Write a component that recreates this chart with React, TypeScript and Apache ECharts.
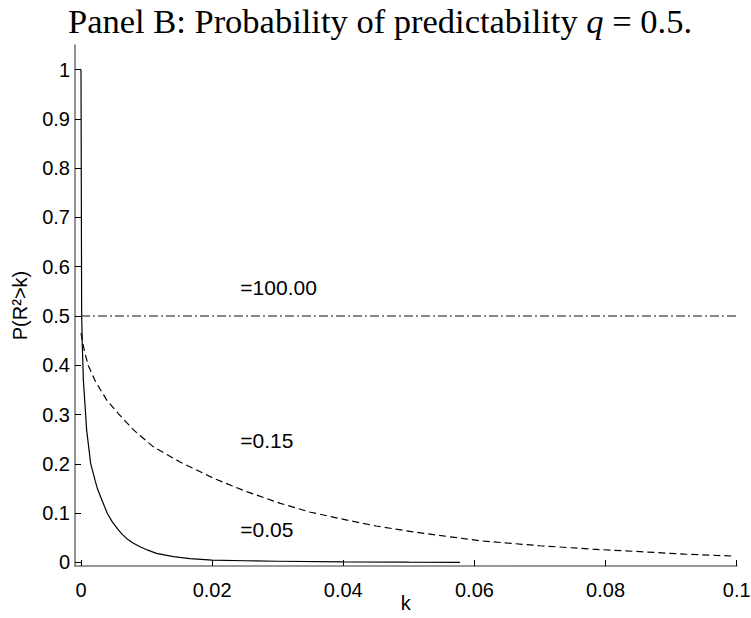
import React, { useEffect, useRef } from 'react';
import * as echarts from 'echarts';

// Solid curve (=0.05)
const kSolid = [0, 0.0001, 0.0002, 0.00036, 0.00086, 0.00147, 0.00214, 0.0025, 0.003, 0.004, 0.0048, 0.0057, 0.0063, 0.0072, 0.008, 0.009, 0.0102, 0.0115, 0.0141, 0.0166, 0.02, 0.025, 0.03, 0.04, 0.05, 0.0578];
const pSolid = [1, 0.5, 0.44, 0.37, 0.269, 0.201, 0.167, 0.15, 0.133, 0.1, 0.082, 0.066, 0.057, 0.046, 0.039, 0.032, 0.025, 0.0186, 0.0118, 0.0077, 0.005, 0.0035, 0.0025, 0.0012, 0.0006, 0.0004];

// Dashed curve (=0.15)
const kDashed = [0, 0.0005, 0.0011, 0.0021, 0.0029, 0.004, 0.0057, 0.008, 0.011, 0.0151, 0.0202, 0.025, 0.0304, 0.035, 0.0406, 0.045, 0.0507, 0.0609, 0.07, 0.078, 0.0853, 0.092, 0.0996];
const pDashed = [0.465, 0.43, 0.4, 0.37, 0.352, 0.328, 0.302, 0.269, 0.235, 0.204, 0.171, 0.145, 0.12, 0.102, 0.086, 0.074, 0.062, 0.044, 0.034, 0.027, 0.022, 0.017, 0.013];

// Dash-dot line (=100.00)
const kFlat = [0, 0.1];
const pFlat = [0.5, 0.5];

// Annotations
const annotK = [0.0243, 0.0243, 0.0243];
const annotP = [0.557, 0.248, 0.067];
const annotText = ['=100.00', '=0.15', '=0.05'];

// Ticks
const xTicks = [0, 0.02, 0.04, 0.06, 0.08, 0.1];
const xTickLabels = ['0', '0.02', '0.04', '0.06', '0.08', '0.1'];
const yTicks = [0, 0.1, 0.2, 0.3, 0.4, 0.5, 0.6, 0.7, 0.8, 0.9, 1];
const yTickLabels = ['0', '0.1', '0.2', '0.3', '0.4', '0.5', '0.6', '0.7', '0.8', '0.9', '1'];

const zip = (a: number[], b: number[]) => a.map((v, i) => [v, b[i]]);

export default function App() {
  const ref = useRef<HTMLDivElement>(null);
  useEffect(() => {
    document.body.style.margin = '0';
    if (!ref.current) return;
    const chart = echarts.init(ref.current, undefined, { renderer: 'svg' });
    const sans = 'Liberation Sans, Arial, sans-serif';
    const lookup = (vals: number[], labels: string[]) => (v: number) => {
      const i = vals.findIndex((t) => Math.abs(t - v) < 1e-9);
      return i >= 0 ? labels[i] : '';
    };
    chart.setOption({
      animation: false,
      backgroundColor: '#fff',
      graphic: [
        {
          type: 'text',
          x: 380,
          y: 3,
          style: {
            text: 'Panel B: Probability of predictability {i|q} = 0.5.',
            font: '34.5px "Liberation Serif", serif',
            fill: '#000',
            align: 'center',
            verticalAlign: 'top',
            rich: {
              i: { fontStyle: 'italic', fontSize: 34.5, fontFamily: 'Liberation Serif', fill: '#000' },
            },
          },
        },
      ],
      grid: { left: 75, right: 14.3, top: 45, bottom: 52, containLabel: false, outerBoundsMode: 'none' },
      xAxis: {
        type: 'value',
        min: -0.000915,
        max: 0.1,
        name: 'k',
        nameLocation: 'middle',
        nameGap: 27,
        nameMoveOverlap: false,
        nameTextStyle: { fontFamily: sans, fontSize: 20, color: '#000' },
        axisLine: { onZero: false, lineStyle: { color: '#777', width: 1.6 } },
        axisTick: { inside: true, length: 6, customValues: xTicks, lineStyle: { color: '#000', width: 1 } },
        axisLabel: {
          customValues: xTicks,
          formatter: lookup(xTicks, xTickLabels),
          fontFamily: sans,
          fontSize: 20,
          color: '#000',
          margin: 14,
        },
        splitLine: { show: false },
      },
      yAxis: {
        type: 'value',
        min: -0.0071,
        max: 1.0497,
        name: 'P(R²>k)',
        nameLocation: 'middle',
        nameRotate: 90,
        nameGap: 45,
        nameMoveOverlap: false,
        nameTextStyle: { fontFamily: sans, fontSize: 20, color: '#000' },
        axisLine: { onZero: false, lineStyle: { color: '#777', width: 1.6 } },
        axisTick: { inside: true, length: 6, customValues: yTicks, lineStyle: { color: '#000', width: 1 } },
        axisLabel: {
          customValues: yTicks,
          formatter: lookup(yTicks, yTickLabels),
          fontFamily: sans,
          fontSize: 20,
          color: '#000',
          margin: 5,
        },
        splitLine: { show: false },
      },
      series: [
        {
          type: 'line',
          data: zip(kFlat, pFlat),
          showSymbol: false,
          lineStyle: { color: '#111', width: 1.1, type: [9, 3, 2, 3] },
        },
        {
          type: 'line',
          data: zip(kDashed, pDashed),
          showSymbol: false,
          smooth: false,
          lineStyle: { color: '#000', width: 1.2, type: [7, 4] },
        },
        {
          type: 'line',
          data: zip(kSolid, pSolid),
          showSymbol: false,
          smooth: false,
          lineStyle: { color: '#000', width: 1.2, type: 'solid' },
        },
        {
          type: 'scatter',
          data: annotK.map((k, i) => [k, annotP[i], annotText[i]]),
          symbolSize: 0,
          itemStyle: { opacity: 1 },
          label: {
            show: true,
            position: 'right',
            distance: 0,
            opacity: 1,
            formatter: (p: any) => p.value[2],
            fontFamily: sans,
            fontSize: 21,
            color: '#000',
          },
        },
      ],
    });
    return () => chart.dispose();
  }, []);
  return <div ref={ref} style={{ width: 751, height: 618 }} />;
}
